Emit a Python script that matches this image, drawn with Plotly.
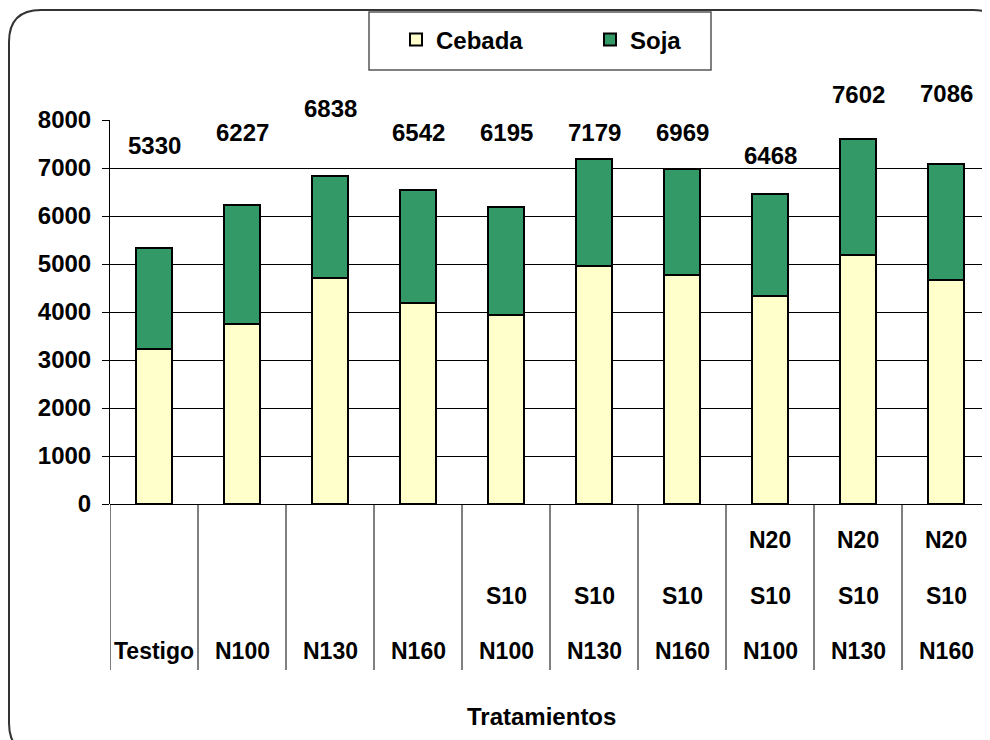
import plotly.graph_objects as go

# Datos
categorias = ["Testigo", "N100", "N130", "N160", "S10 N100", "S10 N130", "S10 N160",
              "N20 S10 N100", "N20 S10 N130", "N20 S10 N160"]
fila_sup = ["", "", "", "", "", "", "", "N20", "N20", "N20"]
fila_med = ["", "", "", "", "S10", "S10", "S10", "S10", "S10", "S10"]
fila_inf = ["Testigo", "N100", "N130", "N160", "N100", "N130", "N160", "N100", "N130", "N160"]
cebada = [3230, 3750, 4715, 4190, 3945, 4950, 4765, 4330, 5190, 4660]
soja = [2100, 2477, 2123, 2352, 2250, 2229, 2204, 2138, 2412, 2426]
totales = [5330, 6227, 6838, 6542, 6195, 7179, 6969, 6468, 7602, 7086]

# Geometría en píxeles (coordenadas de pantalla; la página desplaza la figura 8 px)
OFF = 8
W, H = 990, 740
L, R, T, B = 110, 990, 120, 504
etiqueta_py = [145, 133, 108, 133, 133, 133, 133, 155, 94, 93]

FONT = "Arial, Liberation Sans, sans-serif"


def fuente(size):
    return dict(size=size, color="black", family=FONT, weight="bold")


def px_x(px):
    return (px - L) / (R - L)


def px_y(py):
    return (B - py) / (B - T)


fig = go.Figure()
fig.add_bar(x=categorias, y=cebada, name="Cebada", width=0.4,
            marker=dict(color="#FFFFCC", line=dict(color="black", width=2)))
fig.add_bar(x=categorias, y=soja, name="Soja", width=0.4,
            marker=dict(color="#339966", line=dict(color="black", width=2)))

anots = []
for c, tot, py in zip(categorias, totales, etiqueta_py):
    anots.append(dict(x=c, xref="x", y=px_y(py), yref="paper", text=str(tot),
                      yanchor="middle", showarrow=False, font=fuente(24)))
for fila, py in [(fila_sup, 540), (fila_med, 596), (fila_inf, 651)]:
    for c, t in zip(categorias, fila):
        if t:
            anots.append(dict(x=c, xref="x", y=px_y(py), yref="paper", text=t,
                              yanchor="middle", showarrow=False, font=fuente(23)))
anots.append(dict(x=px_x(541), xref="paper", y=px_y(716), yref="paper", text="Tratamientos",
                  yanchor="middle", showarrow=False, font=fuente(24)))

shapes = []
# divisiones de categorías
for i in range(len(categorias)):
    shapes.append(dict(type="line", xref="x", yref="paper", x0=i - 0.5, x1=i - 0.5,
                       y0=px_y(670), y1=0, line=dict(color="black", width=1)))
# cuadro de la leyenda
shapes.append(dict(type="rect", xref="paper", yref="paper", x0=px_x(369), x1=px_x(711),
                   y0=px_y(70), y1=px_y(12), line=dict(color="#555555", width=1.5)))
# marco redondeado
x0, y0, x1, y1, r = 9, 10, 1005, 755, 32
path = (f"M {px_x(x0)},{px_y(y0 + r)} "
        f"Q {px_x(x0)},{px_y(y0)} {px_x(x0 + r)},{px_y(y0)} "
        f"L {px_x(x1 - r)},{px_y(y0)} "
        f"Q {px_x(x1)},{px_y(y0)} {px_x(x1)},{px_y(y0 + r)} "
        f"L {px_x(x1)},{px_y(y1 - r)} "
        f"Q {px_x(x1)},{px_y(y1)} {px_x(x1 - r)},{px_y(y1)} "
        f"L {px_x(x0 + r)},{px_y(y1)} "
        f"Q {px_x(x0)},{px_y(y1)} {px_x(x0)},{px_y(y1 - r)} Z")
shapes.append(dict(type="path", xref="paper", yref="paper", path=path,
                   line=dict(color="#333333", width=2)))

fig.update_layout(
    barmode="stack",
    width=W, height=H,
    margin=dict(l=L - OFF, r=W - R + OFF, t=T - OFF, b=H - B + OFF),
    plot_bgcolor="white",
    paper_bgcolor="white",
    font=fuente(22),
    showlegend=True,
    legend=dict(orientation="h", x=px_x(396), y=px_y(40), xanchor="left", yanchor="middle",
                entrywidth=149, entrywidthmode="pixels",
                font=fuente(24),
                bgcolor="rgba(0,0,0,0)", borderwidth=0, traceorder="normal"),
    annotations=anots,
    shapes=shapes,
)
fig.update_xaxes(showticklabels=False, ticks="", showgrid=False, range=[-0.5, 9.5],
                 showline=False, zeroline=False)
fig.update_yaxes(range=[0, 8000], dtick=1000, showgrid=True, gridcolor="black", gridwidth=1,
                 showline=True, linecolor="black", linewidth=1, ticks="outside", ticklen=7,
                 tickcolor="black", zeroline=True, zerolinecolor="black", zerolinewidth=1,
                 ticklabelstandoff=6, tickfont=fuente(24))

fig.write_html("out.html")
